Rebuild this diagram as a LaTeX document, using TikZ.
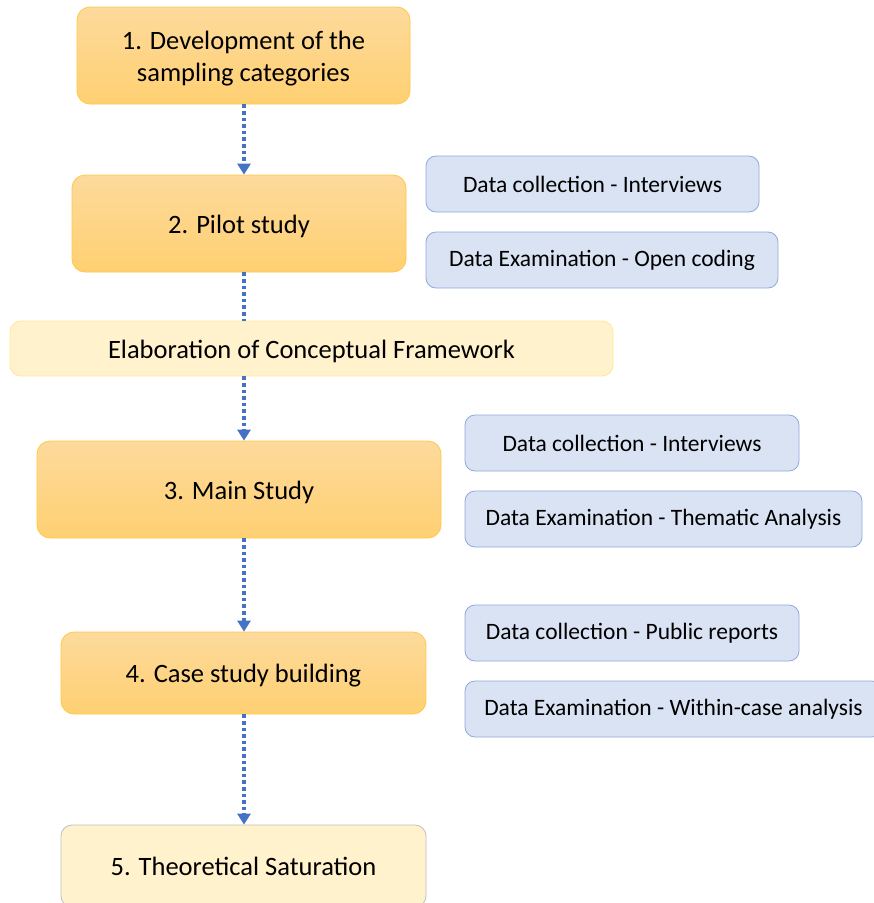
\documentclass[tikz,border=0pt]{standalone}
\usepackage{fontspec}
\setmainfont{Carlito}
\usetikzlibrary{arrows.meta}
\definecolor{orTop}{RGB}{253,218,156}
\definecolor{orBot}{RGB}{255,208,114}
\definecolor{orLine}{RGB}{255,200,70}
\definecolor{ylFill}{RGB}{255,242,204}
\definecolor{ylLine}{RGB}{255,230,153}
\definecolor{grLine}{RGB}{191,191,191}
\definecolor{blFill}{RGB}{218,227,243}
\definecolor{blLine}{RGB}{143,170,220}
\definecolor{arrBlue}{RGB}{68,114,196}
% stage caption, drawn a little lower than its box so the capitals sit on the box centre
\newcommand{\stagelbl}[1]{\raisebox{-3.5pt}[\height][\depth]{\begin{tabular}{@{}c@{}}#1\end{tabular}}}
\tikzset{
  stage/.style={draw=orLine, line width=0.8pt, top color=orTop, bottom color=orBot,
    rounded corners=13pt, font=\fontsize{26.5}{32}\selectfont, inner sep=0pt},
  pale/.style={draw=ylLine, line width=0.8pt, fill=ylFill, rounded corners=11pt,
    font=\fontsize{26.5}{32}\selectfont, inner sep=0pt},
  task/.style={draw=blLine, line width=0.8pt, fill=blFill, rounded corners=10pt,
    minimum height=56pt, font=\fontsize{23.5}{28}\selectfont, inner sep=0pt},
  flow/.style={draw=arrBlue, line width=3.6pt, dash pattern=on 3.6pt off 3pt},
  flowtip/.style={flow, -{Triangle[width=13pt,length=11pt]}}
}
\begin{document}
\begin{tikzpicture}[x=1pt,y=-1pt]
\useasboundingbox (0,0) rectangle (874,903);
\clip (0,0) rectangle (874,903);
\fill[white] (0,0) rectangle (874,903);

% main stages
\node[stage, minimum width=333pt, minimum height=97pt] (s1) at (243.5,55.5)
  {\stagelbl{1. Development of the\\sampling categories}};
\node[stage, minimum width=334pt, minimum height=97pt] (s2) at (239,223.5) {\stagelbl{2. Pilot study}};
\node[pale, minimum width=603pt, minimum height=55pt] (frame) at (311.5,348.5)
  {\stagelbl{Elaboration of Conceptual Framework}};
\node[stage, minimum width=404pt, minimum height=97pt] (s3) at (239,489.5)
  {\stagelbl{3. Main Study}};
\node[stage, minimum width=365pt, minimum height=82pt] (s4) at (243.5,673)
  {\stagelbl{4. Case study building}};
\node[pale, draw=grLine, minimum width=365pt, minimum height=82pt] (s5) at (243.5,866)
  {5. Theoretical Saturation};

% data activities
\node[task, minimum width=333pt] (t1) at (592.5,184) {Data collection - Interviews};
\node[task, minimum width=352pt] (t2) at (602,260) {Data Examination - Open coding};
\node[task, minimum width=334pt] (t3) at (632,443) {Data collection - Interviews};
\node[task, minimum width=397pt] (t4) at (663.5,519) {Data Examination - Thematic Analysis};
\node[task, minimum width=334pt] (t5) at (632,633) {Data collection - Public reports};
\node[task, minimum width=417pt] (t6) at (673.5,709) {Data Examination - Within-case analysis};

% dotted flow line
\coordinate (ax) at (244,0);
\draw[flowtip] (s1.south -| ax) -- (s2.north -| ax);
\draw[flow] (s2.south -| ax) -- (frame.north -| ax);
\draw[flowtip] (frame.south -| ax) -- (s3.north -| ax);
\draw[flowtip] (s3.south -| ax) -- (s4.north -| ax);
\draw[flowtip] (s4.south -| ax) -- (s5.north -| ax);
\end{tikzpicture}
\end{document}
